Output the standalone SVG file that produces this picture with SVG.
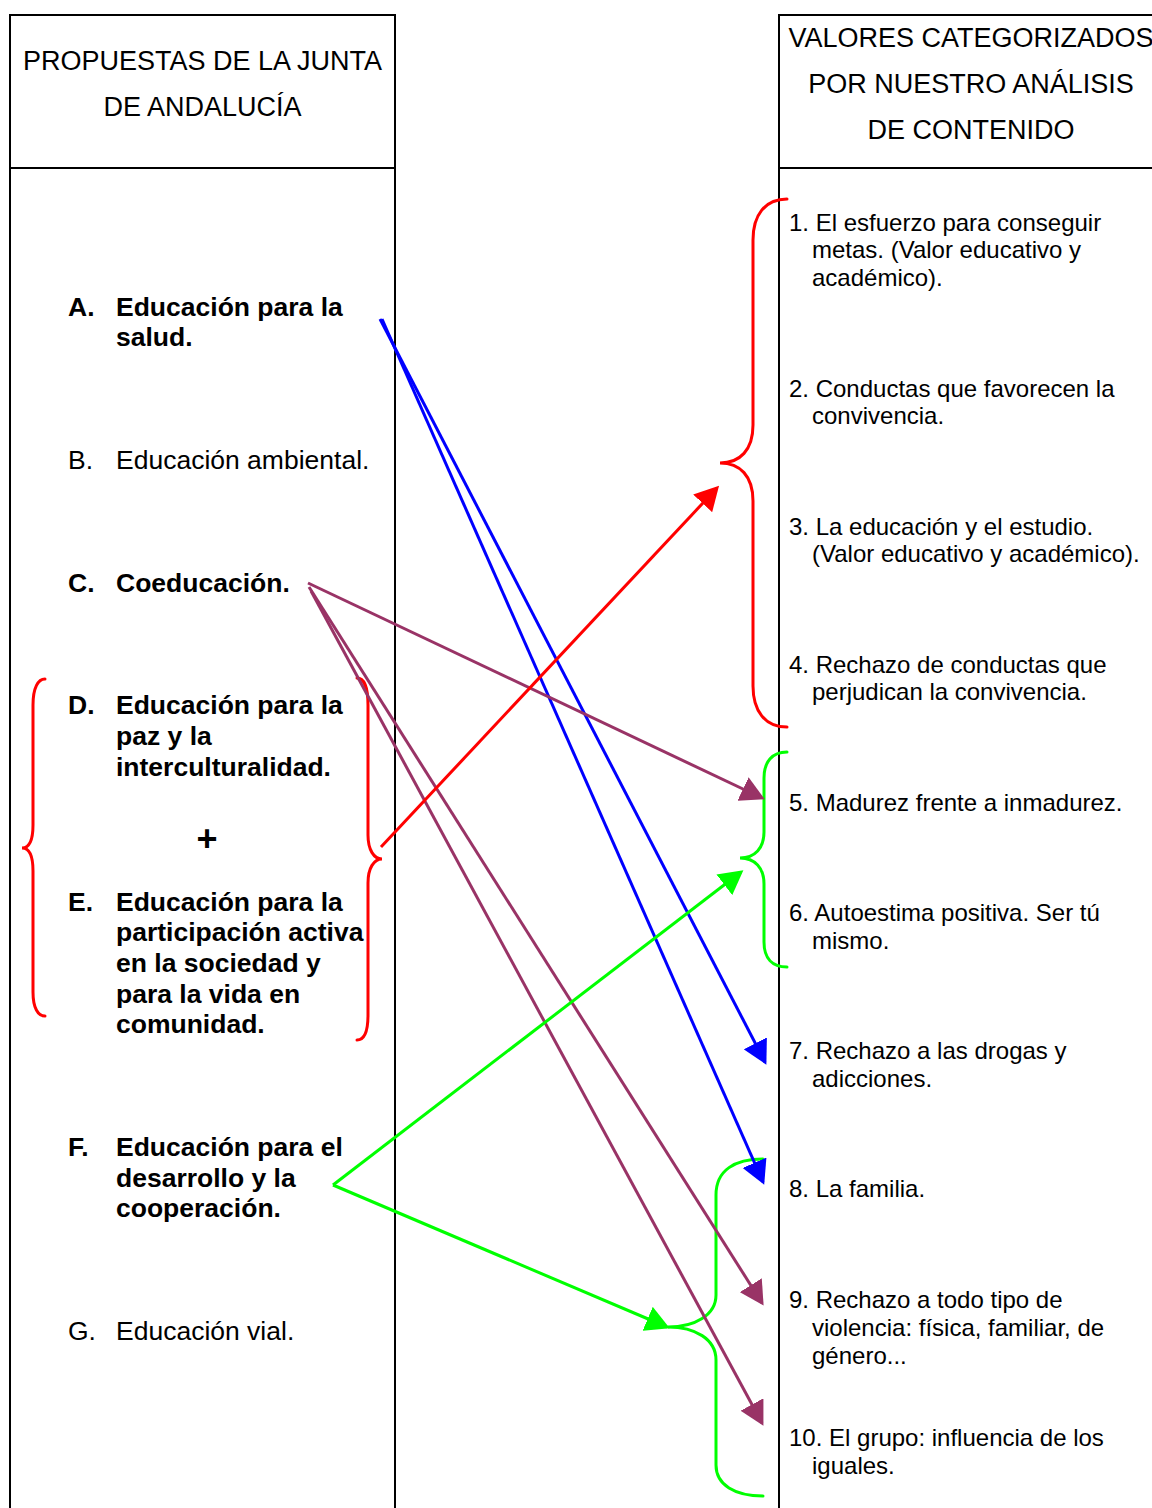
<svg xmlns="http://www.w3.org/2000/svg" width="1152" height="1508" viewBox="0 0 1152 1508">
<style>
.frame{stroke:#000;stroke-width:2;fill:none}
.hdr{font-family:"Liberation Sans",Arial,sans-serif;font-size:27px;fill:#000;text-anchor:middle}
.lt{font-family:"Liberation Sans",Arial,sans-serif;font-size:26.5px;fill:#000}
.b{font-weight:bold}
.rt{font-family:"Liberation Sans",Arial,sans-serif;font-size:24px;fill:#000}
.br{fill:none;stroke-width:3;stroke-linecap:round}
.ar{fill:none;stroke-width:3}
</style>
<defs>
<marker id="mb" viewBox="0 0 24 26" refX="21" refY="13" markerWidth="24" markerHeight="26" markerUnits="userSpaceOnUse" orient="auto"><path d="M0,0 L24,13 L0,26 z" fill="#0000FF"/></marker>
<marker id="mp" viewBox="0 0 24 26" refX="21" refY="13" markerWidth="24" markerHeight="26" markerUnits="userSpaceOnUse" orient="auto"><path d="M0,0 L24,13 L0,26 z" fill="#993366"/></marker>
<marker id="mr" viewBox="0 0 24 26" refX="21" refY="13" markerWidth="24" markerHeight="26" markerUnits="userSpaceOnUse" orient="auto"><path d="M0,0 L24,13 L0,26 z" fill="#FF0000"/></marker>
<marker id="mg" viewBox="0 0 24 26" refX="21" refY="13" markerWidth="24" markerHeight="26" markerUnits="userSpaceOnUse" orient="auto"><path d="M0,0 L24,13 L0,26 z" fill="#00FF00"/></marker>
</defs>
<rect width="1152" height="1508" fill="#fff"/>
<g id="tables">
<path class="frame" d="M10,1510 L10,15 L395,15 L395,1510 M9,168 L395,168"/>
<path class="frame" d="M779,1510 L779,15 L1154,15 M779,168 L1154,168"/>
</g>
<g id="header-left">
<text class="hdr" x="202.5" y="70">PROPUESTAS DE LA JUNTA</text>
<text class="hdr" x="202.5" y="116">DE ANDALUCÍA</text>
</g>
<g id="header-right">
<text class="hdr" x="971" y="47">VALORES CATEGORIZADOS</text>
<text class="hdr" x="971" y="93">POR NUESTRO ANÁLISIS</text>
<text class="hdr" x="971" y="139">DE CONTENIDO</text>
</g>
<g id="node-A" class="lt b"><text x="68" y="316">A.</text><text x="116" y="316">Educación para la</text><text x="116" y="346">salud.</text></g>
<g id="node-B" class="lt"><text x="68" y="469">B.</text><text x="116" y="469">Educación ambiental.</text></g>
<g id="node-C" class="lt b"><text x="68" y="592">C.</text><text x="116" y="592">Coeducación.</text></g>
<g id="node-D" class="lt b"><text x="68" y="714">D.</text><text x="116" y="714">Educación para la</text><text x="116" y="745">paz y la</text><text x="116" y="776">interculturalidad.</text></g>
<g id="plus" class="lt b"><text x="207" y="851" text-anchor="middle" font-size="36">+</text></g>
<g id="node-E" class="lt b"><text x="68" y="911">E.</text><text x="116" y="911">Educación para la</text><text x="116" y="941">participación activa</text><text x="116" y="972">en la sociedad y</text><text x="116" y="1003">para la vida en</text><text x="116" y="1033">comunidad.</text></g>
<g id="node-F" class="lt b"><text x="68" y="1156">F.</text><text x="116" y="1156">Educación para el</text><text x="116" y="1187">desarrollo y la</text><text x="116" y="1217">cooperación.</text></g>
<g id="node-G" class="lt"><text x="68" y="1340">G.</text><text x="116" y="1340">Educación vial.</text></g>
<g id="node-1" class="rt"><text x="789" y="230.5">1. El esfuerzo para conseguir</text><text x="812" y="258">metas. (Valor educativo y</text><text x="812" y="285.5">académico).</text></g>
<g id="node-2" class="rt"><text x="789" y="396.5">2. Conductas que favorecen la</text><text x="812" y="423.5">convivencia.</text></g>
<g id="node-3" class="rt"><text x="789" y="534.5">3. La educación y el estudio.</text><text x="812" y="561.5">(Valor educativo y académico).</text></g>
<g id="node-4" class="rt"><text x="789" y="672.5">4. Rechazo de conductas que</text><text x="812" y="699.5">perjudican la convivencia.</text></g>
<g id="node-5" class="rt"><text x="789" y="810.5">5. Madurez frente a inmadurez.</text></g>
<g id="node-6" class="rt"><text x="789" y="920.5">6. Autoestima positiva. Ser tú</text><text x="812" y="948.5">mismo.</text></g>
<g id="node-7" class="rt"><text x="789" y="1058.5">7. Rechazo a las drogas y</text><text x="812" y="1086.5">adicciones.</text></g>
<g id="node-8" class="rt"><text x="789" y="1196.5">8. La familia.</text></g>
<g id="node-9" class="rt"><text x="789" y="1307.5">9. Rechazo a todo tipo de</text><text x="812" y="1335.5">violencia: física, familiar, de</text><text x="812" y="1363.5">género...</text></g>
<g id="node-10" class="rt"><text x="789" y="1445.5">10. El grupo: influencia de los</text><text x="812" y="1473.5">iguales.</text></g>
<g id="brackets">
<path class="br" stroke="#FF0000" d="M787,199 C765,199 753,215 753,240 L753,425 C753,450 740,463 720,463 C740,463 753,476 753,501 L753,686 C753,711 765,727 787,727"/>
<path class="br" stroke="#00FF00" d="M787,752 C772,752 764,762 764,778 L764,832 C764,848 755,858 740,858 C755,858 764,868 764,884 L764,942 C764,958 772,967 787,967"/>
<path class="br" stroke="#00FF00" d="M763,1159 C735,1159 716,1170 716,1195 L716,1295 C716,1315 695,1327 668,1327 C695,1327 716,1339 716,1360 L716,1465 C716,1485 735,1496 763,1496"/>
<path class="br" stroke="#FF0000" d="M45,679 C38,679 33,688 33,705 L33,825 C33,840 29,848 22,848 C29,848 33,856 33,871 L33,992 C33,1008 38,1016 45,1016"/>
<path class="br" stroke="#FF0000" d="M357,678 C364,678 368,688 368,705 L368,835 C368,850 374,859 382,859 C374,859 368,868 368,883 L368,1015 C368,1032 364,1040 357,1040"/>
</g>
<g id="connectors">
<line class="ar" stroke="#0000FF" x1="380" y1="319" x2="765" y2="1062" marker-end="url(#mb)"/>
<line class="ar" stroke="#0000FF" x1="382" y1="319" x2="763" y2="1182" marker-end="url(#mb)"/>
<line class="ar" stroke="#993366" x1="308" y1="583" x2="762" y2="798" marker-end="url(#mp)"/>
<line class="ar" stroke="#993366" x1="309" y1="587" x2="762" y2="1303" marker-end="url(#mp)"/>
<line class="ar" stroke="#993366" x1="311" y1="591" x2="762" y2="1423" marker-end="url(#mp)"/>
<line class="ar" stroke="#FF0000" x1="381" y1="847" x2="717" y2="488" marker-end="url(#mr)"/>
<line class="ar" stroke="#00FF00" x1="333" y1="1185" x2="741" y2="872" marker-end="url(#mg)"/>
<line class="ar" stroke="#00FF00" x1="333" y1="1185" x2="667" y2="1327" marker-end="url(#mg)"/>
</g>
</svg>
